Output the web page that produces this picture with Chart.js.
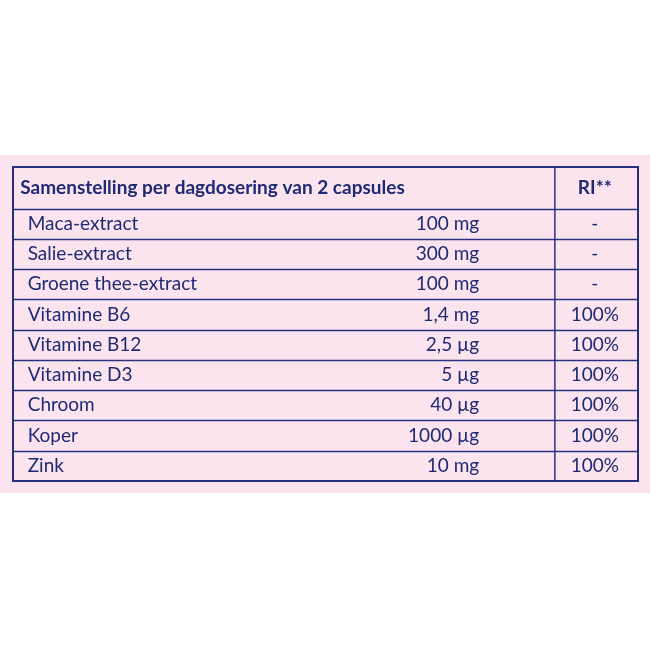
<!DOCTYPE html>
<html><head><meta charset="utf-8">
<script src="https://cdn.jsdelivr.net/npm/chart.js@4"></script>
<style>html,body{margin:0;padding:0;background:#fff}#c{display:block}</style>
</head><body>
<div style="width:650px;height:650px"><canvas id="c" width="650" height="650"></canvas></div>
<script>
const headerLabels = ["Samenstelling per dagdosering van 2 capsules", "RI**"];
const ingredients = ["Maca-extract","Salie-extract","Groene thee-extract","Vitamine B6","Vitamine B12","Vitamine D3","Chroom","Koper","Zink"];
const amounts = ["100 mg","300 mg","100 mg","1,4 mg","2,5 µg","5 µg","40 µg","1000 µg","10 mg"];
const riValues = ["-","-","-","100%","100%","100%","100%","100%","100%"];

const BLUE = "#27307f", TEXT = "#1d2a74", PINK = "#fce4ef";
const HEADER_H = 1.38;
const FONT = "Lato";

const tablePlugin = {
  id: 'table',
  beforeDraw(chart) {
    const ctx = chart.ctx;
    ctx.save();
    ctx.fillStyle = PINK;
    ctx.fillRect(0, 155, 650, 338);
    ctx.restore();
  },
  afterDraw(chart) {
    const ctx = chart.ctx, x = chart.scales.x, y = chart.scales.y;
    const L = x.getPixelForValue(0), R = x.getPixelForValue(1);
    const colX = x.getPixelForValue(0.867);
    const rowTop = i => y.getPixelForValue(i === 0 ? 0 : HEADER_H + (i - 1));
    ctx.save();
    ctx.strokeStyle = BLUE;
    ctx.lineWidth = 1.5;
    for (let i = 1; i <= ingredients.length; i++) {
      const yy = Math.round(rowTop(i)) + 0.5;
      ctx.beginPath(); ctx.moveTo(L, yy); ctx.lineTo(R, yy); ctx.stroke();
    }
    ctx.beginPath(); ctx.moveTo(colX, rowTop(0)); ctx.lineTo(colX, rowTop(ingredients.length + 1)); ctx.stroke();
    ctx.lineWidth = 2;
    ctx.strokeRect(L, rowTop(0), R - L, rowTop(ingredients.length + 1) - rowTop(0));
    ctx.fillStyle = TEXT;
    ctx.textBaseline = 'middle';
    // header
    const hMid = (rowTop(0) + rowTop(1)) / 2;
    ctx.font = "bold 19px " + FONT;
    ctx.textAlign = 'left';
    ctx.fillText(headerLabels[0], x.getPixelForValue(0.0115), hMid);
    ctx.textAlign = 'center';
    ctx.fillText(headerLabels[1], x.getPixelForValue(0.931), hMid);
    ctx.font = "19px " + FONT;
    ingredients.forEach((name, k) => {
      const mid = (rowTop(k + 1) + rowTop(k + 2)) / 2;
      ctx.textAlign = 'left';
      ctx.fillText(name, x.getPixelForValue(0.0235), mid);
      ctx.textAlign = 'right';
      ctx.fillText(amounts[k], x.getPixelForValue(0.746), mid);
      ctx.textAlign = 'center';
      ctx.fillText(riValues[k], x.getPixelForValue(0.931), mid);
    });
    ctx.restore();
  }
};

new Chart(document.getElementById('c'), {
  type: 'scatter',
  data: { datasets: [{ data: [], pointRadius: 0 }] },
  options: {
    responsive: false, animation: false,
    layout: { padding: { left: 13, right: 12, top: 167, bottom: 169 } },
    plugins: { legend: { display: false }, tooltip: { enabled: false } },
    scales: {
      x: { type: 'linear', min: 0, max: 1, display: false },
      y: { type: 'linear', min: 0, max: HEADER_H + ingredients.length, reverse: true, display: false }
    }
  },
  plugins: [tablePlugin]
});
</script>
</body></html>
